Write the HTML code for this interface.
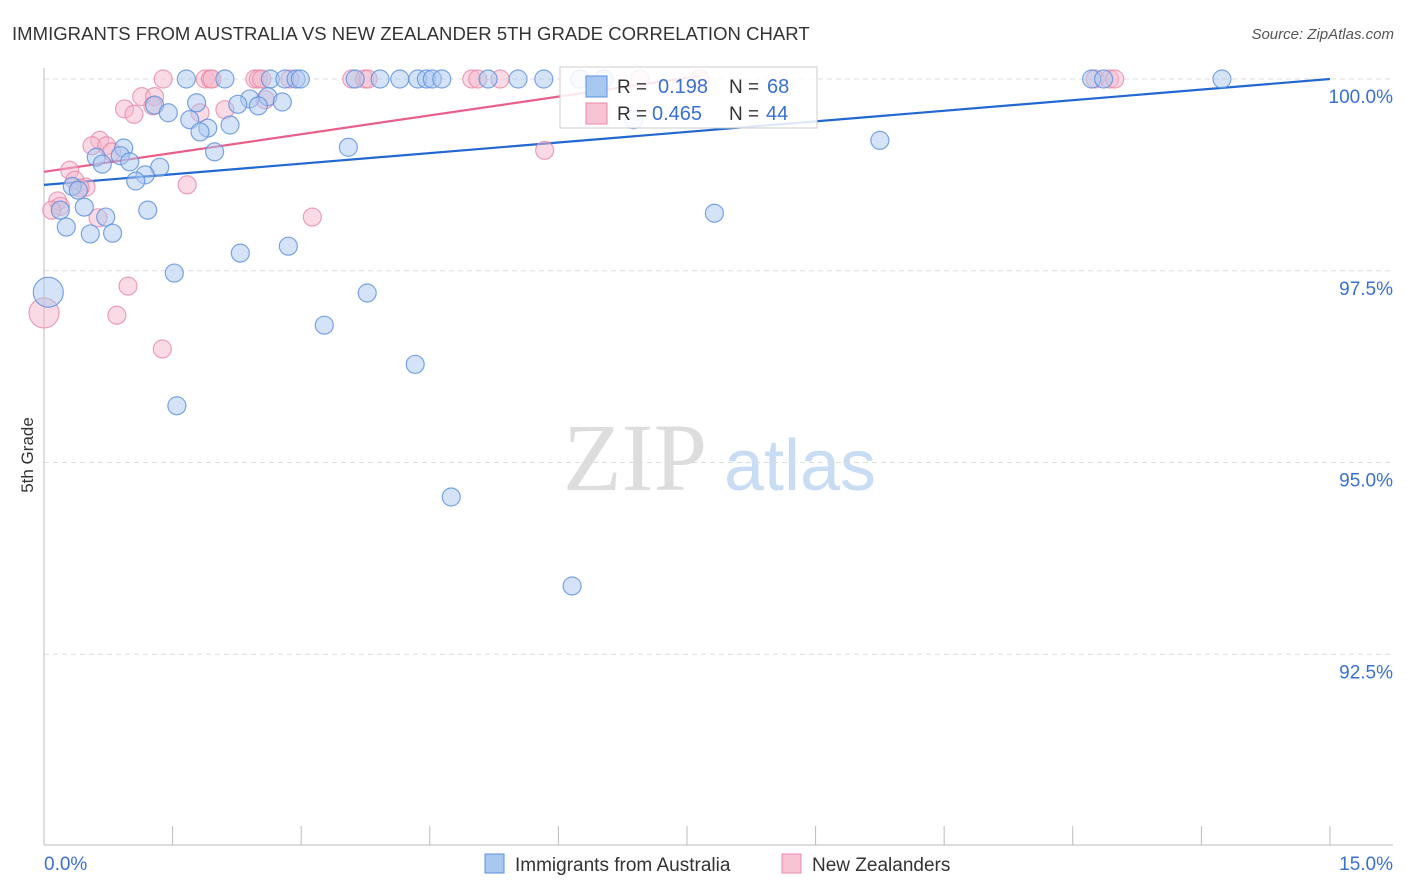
<!DOCTYPE html>
<html><head><meta charset="utf-8"><style>
body{margin:0;background:#fff;font-family:"Liberation Sans",sans-serif}
svg{display:block}
</style></head><body>
<svg id="chart" width="1406" height="892">
<text x="12" y="40" font-size="18.5" fill="#333" letter-spacing="0.35" textLength="798">IMMIGRANTS FROM AUSTRALIA VS NEW ZEALANDER 5TH GRADE CORRELATION CHART</text>
<text x="1394" y="39" font-size="15" fill="#555" font-style="italic" text-anchor="end">Source: ZipAtlas.com</text>
<text x="33" y="455" font-size="17" fill="#333" text-anchor="middle" transform="rotate(-90 33 455)">5th Grade</text>
<g><text x="635" y="490" font-size="96" font-family="Liberation Serif,serif" fill="#ddd" text-anchor="middle">ZIP</text><text x="800" y="490" font-size="72" fill="#c8dcf4" text-anchor="middle">atlas</text></g>
<g id="grid"></g><g id="axes"></g><g id="lines"></g><g id="pts"></g>
<g>
<rect x="560" y="67" width="257" height="61" fill="#fff" fill-opacity="0.85" stroke="#ccc"/>
<rect x="586" y="76" width="21" height="21" fill="#a9c8f0" stroke="#5b8fe0"/>
<rect x="586" y="103" width="21" height="21" fill="#f8c4d4" stroke="#e88aa8"/>
<text x="617" y="93" font-size="19" fill="#333">R =</text>
<text x="658" y="93" font-size="20" fill="#3a70d0">0.198</text>
<text x="729" y="93" font-size="19" fill="#333">N =</text>
<text x="767" y="93" font-size="20" fill="#3a70d0">68</text>
<text x="617" y="120" font-size="19" fill="#333">R =</text>
<text x="652" y="120" font-size="20" fill="#3a70d0">0.465</text>
<text x="729" y="120" font-size="19" fill="#333">N =</text>
<text x="766" y="120" font-size="20" fill="#3a70d0">44</text>
</g>
<g>
<rect x="485" y="854" width="19" height="19" fill="#a9c8f0" stroke="#5b8fe0"/>
<text x="515" y="871" font-size="19" fill="#333">Immigrants from Australia</text>
<rect x="782" y="854" width="19" height="19" fill="#f8c4d4" stroke="#e88aa8"/>
<text x="812" y="871" font-size="19" fill="#333">New Zealanders</text>
</g>
</svg>
<script>
const blueX=[1.66,2.11,2.64,2.81,2.94,2.99,3.63,3.92,4.15,4.36,4.46,4.53,4.64,5.18,5.53,5.83,6.25,6.53,12.22,12.36,13.74,1.78,2.40,2.61,2.78,2.26,1.29,1.45,1.70,1.91,2.17,1.82,1.99,2.50,6.88,0.61,0.68,0.93,0.89,1.00,1.35,1.18,1.07,0.33,0.40,0.47,0.19,0.72,1.21,0.26,0.54,0.80,2.29,2.85,1.52,0.05,3.77,3.27,4.33,1.55,4.75,6.16,3.55,7.82,9.75];
const blueY=[100,100,100,100,100,100,100,100,100,100,100,100,100,100,100,100,100,100,100,100,100,99.69,99.74,99.77,99.70,99.67,99.66,99.56,99.47,99.36,99.40,99.31,99.05,99.65,99.47,98.98,98.89,99.10,99.00,98.92,98.85,98.75,98.67,98.60,98.55,98.33,98.29,98.20,98.29,98.07,97.98,97.99,97.73,97.82,97.47,97.22,97.21,96.79,96.28,95.74,94.55,93.39,99.11,98.25,99.20];
const pinkX=[1.39,1.88,1.94,1.96,2.46,2.50,2.54,2.87,3.59,3.74,3.78,4.99,5.06,5.32,6.95,7.65,12.26,12.43,12.49,1.14,1.29,1.27,0.94,1.05,1.82,2.11,2.58,0.65,0.56,0.73,0.79,0.30,0.36,0.49,0.42,0.16,0.19,0.09,0.63,1.67,3.13,5.84,0.98,0.85,1.38,0.0];
const pinkY=[100,100,100,100,100,100,100,100,100,100,100,100,100,100,100,100,100,100,100,99.77,99.77,99.65,99.61,99.54,99.56,99.60,99.73,99.20,99.13,99.13,99.05,98.81,98.68,98.59,98.58,98.41,98.34,98.29,98.19,98.62,98.20,99.07,97.30,96.92,96.48,96.95];
const blueTrend=[[0,98.62],[15,100]];
const pinkTrend=[[0,98.79],[7.65,100.04]];
const yTicks=[100,97.5,95,92.5];
const yTickLabels=["100.0%","97.5%","95.0%","92.5%"];
const xTicks=[0,1.5,3,4.5,6,7.5,9,10.5,12,13.5,15];
const NS="http://www.w3.org/2000/svg";
const sx=v=>44+v*85.73, sy=v=>79+(100-v)*76.7;
function mk(tag,attrs,parent){const e=document.createElementNS(NS,tag);for(const k in attrs)e.setAttribute(k,attrs[k]);document.getElementById(parent).appendChild(e);return e;}
yTicks.forEach((t,i)=>{
  const l=mk('line',{x1:44,x2:1393,y1:sy(t),y2:sy(t),stroke:'#ddd','stroke-dasharray':'5,4'},'grid');
  
  
  const tx=mk('text',{x:1393,y:sy(t)+24,'font-size':19,fill:'#3a70d0','text-anchor':'end'},'axes');
  tx.textContent=yTickLabels[i];
  
  
});
const ax=mk('line',{x1:44,x2:44,y1:68,y2:845,stroke:'#bbb'},'axes');


const bx=mk('line',{x1:44,x2:1393,y1:845,y2:845,stroke:'#bbb'},'axes');


xTicks.forEach(t=>{
  const l=mk('line',{x1:sx(t),x2:sx(t),y1:826,y2:845,stroke:'#bbb'},'axes');
  
  
});
const xl=mk('text',{x:44,y:870,'font-size':19,fill:'#3a70d0'},'axes');xl.textContent='0.0%';


const xr=mk('text',{x:1393,y:870,'font-size':19,fill:'#3a70d0','text-anchor':'end'},'axes');xr.textContent='15.0%';


function pts(X,Y,fill,stroke,name,bigX){X.forEach((x,i)=>{
  const r=(x===bigX)?15:9;
  const c=mk('circle',{cx:sx(x),cy:sy(Y[i]),r:r,fill:fill,'fill-opacity':0.5,stroke:stroke,'stroke-opacity':0.8,'stroke-width':1.2},'pts');
  
  
});}
pts(pinkX,pinkY,'#f5b8cb','#e88aa8','pink-point',0.0);
pts(blueX,blueY,'#a9c8f0','#5b8fe0','blue-point',0.05);
function tl(T,col,name){const l=mk('line',{x1:sx(T[0][0]),y1:sy(T[0][1]),x2:sx(T[1][0]),y2:sy(T[1][1]),stroke:col,'stroke-width':2.2},'lines');
  
  }
tl(blueTrend,'#2268d0','blue-trend-line');
tl(pinkTrend,'#e8608a','pink-trend-line');
</script>
</body></html>
